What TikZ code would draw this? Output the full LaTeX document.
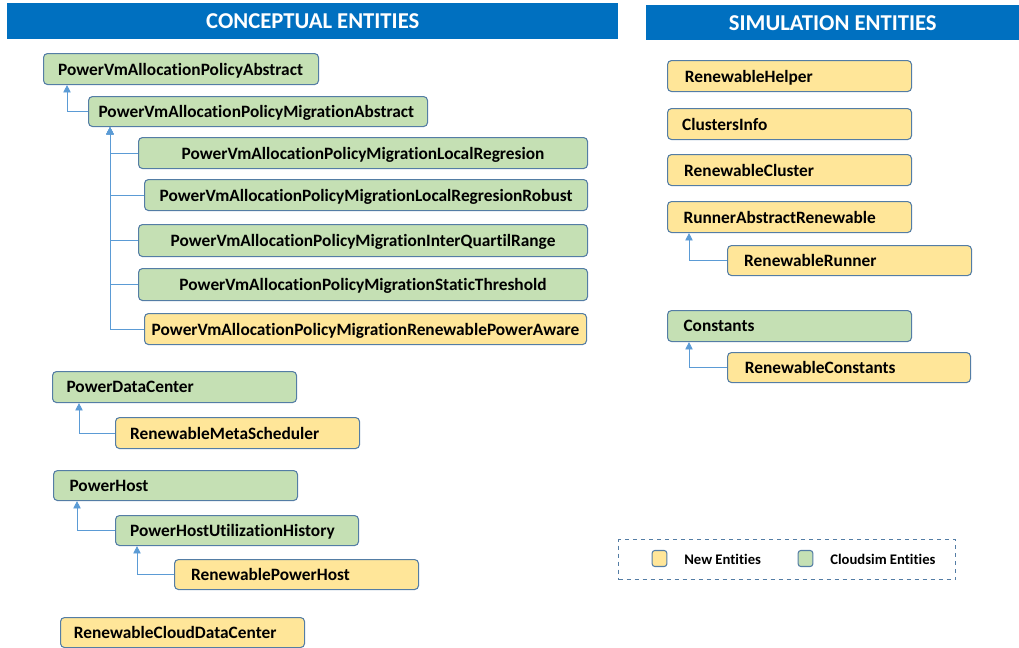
\documentclass[tikz,border=0pt]{standalone}
\usepackage{fontspec}
\setmainfont{Carlito}[Ligatures=NoCommon]
\usetikzlibrary{calc,arrows.meta}
\definecolor{hdrblue}{HTML}{0070C0}
\definecolor{gfill}{HTML}{C5E0B4}
\definecolor{yfill}{HTML}{FFE699}
\definecolor{bord}{RGB}{84,125,165}
\definecolor{arrc}{HTML}{5B9BD5}
\tikzset{
  ebox/.style={draw=bord, line width=0.8pt, rounded corners=3pt, anchor=north west,
    inner ysep=2pt, text depth=0pt, font=\bfseries\fontsize{13}{15}\selectfont, align=left},
  gbox/.style={ebox, fill=gfill},
  ybox/.style={ebox, fill=yfill},
  ctr/.style={align=center},
  hdr/.style={fill=hdrblue, text=white, anchor=north west, inner sep=0pt,
    font=\bfseries\fontsize{17}{20}\selectfont},
  inh/.style={draw=arrc, line width=0.6pt, -{Triangle[length=5.5pt,width=5.5pt]}},
  leg/.style={font=\bfseries\fontsize{11}{13}\selectfont, anchor=west, inner sep=0pt},
  sq/.style={draw=bord, line width=0.8pt, rounded corners=2pt, minimum width=11pt, minimum height=12pt, inner sep=0pt}
}
% #1 name, #2 style, #3 x, #4 y, #5 w, #6 h, #7 text, #8 pad (pt)
\newcommand\bx[8]{\node[#2, inner xsep=#8pt, minimum height=#6*0.75pt, text width=#5*0.75pt-2*#8pt] (#1) at (#3,#4) {#7};}
\begin{document}
\begin{tikzpicture}[x=0.75pt,y=-0.75pt]
\useasboundingbox (0,0) rectangle (1019,647);
% headers
\node[hdr, minimum width=611*0.75pt, minimum height=36*0.75pt] (h1) at (7,3) {CONCEPTUAL ENTITIES};
\node[hdr, minimum width=373*0.75pt, minimum height=35*0.75pt] (h2) at (646,5) {SIMULATION ENTITIES};
% left column
\bx{p1}{gbox}{43}{53}{275}{31}{PowerVmAllocationPolicyAbstract}{11}
\bx{p2}{gbox}{88}{96}{339}{30}{PowerVmAllocationPolicyMigrationAbstract}{7.5}
\bx{q1}{gbox,ctr}{138}{137}{449}{31}{PowerVmAllocationPolicyMigrationLocalRegresion}{4}
\bx{q2}{gbox,ctr}{144}{179}{443}{31}{PowerVmAllocationPolicyMigrationLocalRegresionRobust}{4}
\bx{q3}{gbox,ctr}{138}{224}{449}{32}{PowerVmAllocationPolicyMigrationInterQuartilRange}{4}
\bx{q4}{gbox,ctr}{138}{268}{449}{32}{PowerVmAllocationPolicyMigrationStaticThreshold}{4}
\bx{q5}{ybox,ctr}{144}{313}{442}{31}{PowerVmAllocationPolicyMigrationRenewablePowerAware}{1}
\bx{pdc}{gbox}{52}{371}{244}{31}{PowerDataCenter}{10.5}
\bx{rms}{ybox}{115}{417}{244}{31}{RenewableMetaScheduler}{11}
\bx{ph}{gbox}{53}{470}{244}{30}{PowerHost}{12}
\bx{phu}{gbox}{115}{515}{243}{30}{PowerHostUtilizationHistory}{11}
\bx{rph}{ybox}{174}{559}{244}{30}{RenewablePowerHost}{12.5}
\bx{rcdc}{ybox}{60}{617}{244}{30}{RenewableCloudDataCenter}{10}
% right column
\bx{rh}{ybox}{667}{60}{244}{31}{RenewableHelper}{13}
\bx{ci}{ybox}{667}{108}{244}{31}{ClustersInfo}{11}
\bx{rc}{ybox}{667}{154}{244}{31}{RenewableCluster}{12.5}
\bx{rar}{ybox}{667}{201}{244}{31}{RunnerAbstractRenewable}{12}
\bx{rr}{ybox}{727}{245}{244}{30}{RenewableRunner}{12.5}
\bx{co}{gbox}{667}{310}{244}{31}{Constants}{12}
\bx{rco}{ybox}{727}{352}{243}{30}{RenewableConstants}{13}
% inheritance connectors
\draw[inh] (p2.west) -| ($(p1.south west)+(24,0)$);
\foreach \q in {q1,q2,q3,q4,q5}{
  \draw[inh] (\q.west) -| ($(p2.south west)+(22,0)$);
}
\draw[inh] (rms.west) -| ($(pdc.south west)+(27,0)$);
\draw[inh] (phu.west) -| ($(ph.south west)+(24,0)$);
\draw[inh] (rph.west) -| ($(phu.south west)+(22,0)$);
\draw[inh] (rr.west) -| ($(rar.south west)+(22,0)$);
\draw[inh] (rco.west) -| ($(co.south west)+(22,0)$);
% legend
\node[draw=bord, dashed, line width=0.8pt, anchor=north west, minimum width=337*0.75pt, minimum height=40*0.75pt, inner sep=0pt] (legend) at (618,539) {};
\node[sq, fill=yfill] (sqy) at (659.5,558.5) {};
\node[leg] (ly) at (684,559) {New Entities};
\node[sq, fill=gfill] (sqg) at (805.5,558.5) {};
\node[leg] (lg) at (830,559) {Cloudsim Entities};
\end{tikzpicture}
\end{document}
